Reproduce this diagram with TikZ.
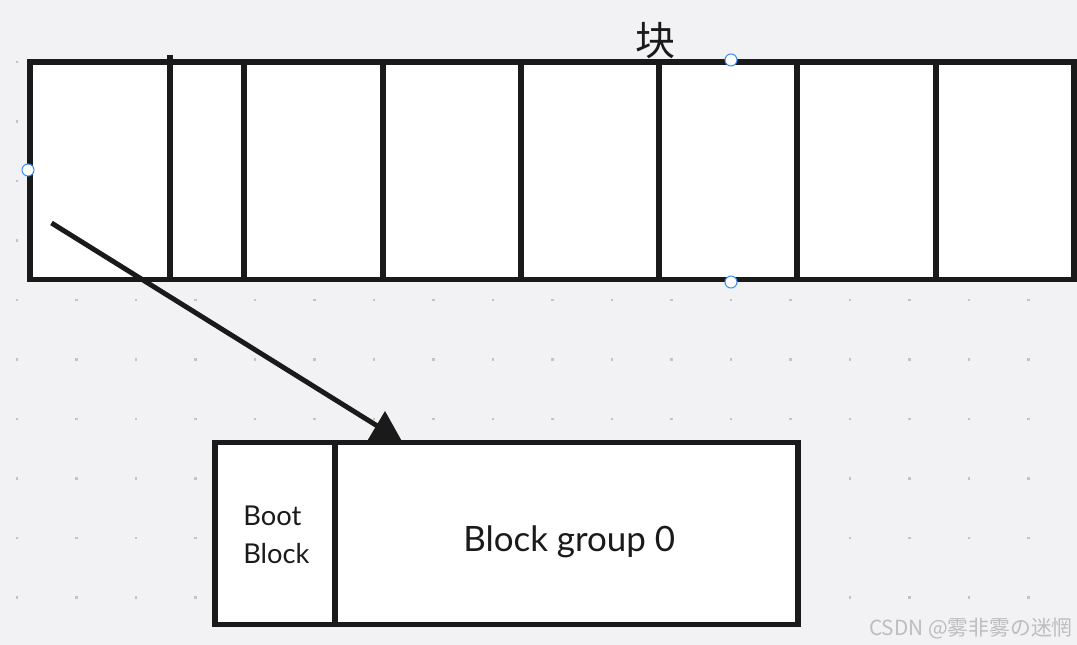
\documentclass[tikz,border=0pt]{standalone}
\usepackage{fontspec}
\setmainfont{Lato}
\newfontfamily\cjkfont{Noto Sans CJK SC}
\begin{document}
\begin{tikzpicture}[x=0.75pt,y=-0.75pt,
  bg/.style={fill=bgcol, draw=none},
  gdot/.style={fill=dotcol, draw=none},
  frame/.style={draw=ink, line width=3.9pt, fill=white},
  divider/.style={draw=ink, line width=3.9pt},
  handle/.style={circle, draw=handleblue, fill=white, line width=0.8pt, minimum size=9pt, inner sep=0pt},
  lbl/.style={inner sep=0pt, text=ink}]
\definecolor{bgcol}{HTML}{F2F2F4}
\definecolor{dotcol}{HTML}{C4C4C6}
\definecolor{ink}{HTML}{1A1A1A}
\definecolor{handleblue}{HTML}{3A8EF2}
\definecolor{wmgrey}{HTML}{BDBDC0}
\useasboundingbox (0,0) rectangle (1077,645);
\fill[bg] (0,0) rectangle (1077,645);
% dot grid
\foreach \i in {0,...,17} {
  \foreach \j in {0,...,9} {
    \fill[gdot] ({17+59.5*\i-1.4},{62+59.5*\j-1.4}) rectangle ++(2.8,2.8);
  }
}
% top strip of blocks
\coordinate (stripNW) at (30,62);
\coordinate (stripSE) at (1074,279.5);
\draw[frame] (stripNW) rectangle (stripSE);
\draw[divider] (170,55) -- (170,279.5);
\foreach \x in {244,383,521,659,797,936} {
  \draw[divider] (\x,62) -- (\x,279.5);
}
\node[lbl, font=\cjkfont\fontsize{30}{30}\selectfont] (kuai) at (655,41) {块};
% bottom box
\coordinate (grpNW) at (215,442.5);
\coordinate (grpSE) at (798,624.5);
\draw[frame] (grpNW) rectangle (grpSE);
\draw[divider] (335,442.5) -- (335,624.5);
\node[lbl, anchor=base west, font=\fontsize{20.5}{28.5}\selectfont] (boot) at (243,525) {Boot};
\node[lbl, anchor=base west, font=\fontsize{20.5}{28.5}\selectfont] (bootblk) at (243,563) {Block};
\node[lbl, anchor=base west, font=\fontsize{26.2}{30}\selectfont] (grp) at (463,551) {Block group 0};
% arrow
\coordinate (arrStart) at (51.5,223);
\coordinate (arrEnd) at (379,427);
\coordinate (tipApex) at (385,411);
\draw[draw=ink, line width=3.7pt] (arrStart) -- (arrEnd);
\fill[ink] (tipApex) -- (401.5,440.5) -- (367.5,440.5) -- cycle;
% selection handles
\node[handle] (h1) at (28,170) {};
\node[handle] (h2) at (731,60) {};
\node[handle] (h3) at (731,282) {};
% watermark
\node[anchor=base east, inner sep=0pt, text=wmgrey, font=\cjkfont\fontsize{15.6}{16}\selectfont] (wm) at (1073,635) {CSDN @雾非雾の迷惘};
\end{tikzpicture}
\end{document}
